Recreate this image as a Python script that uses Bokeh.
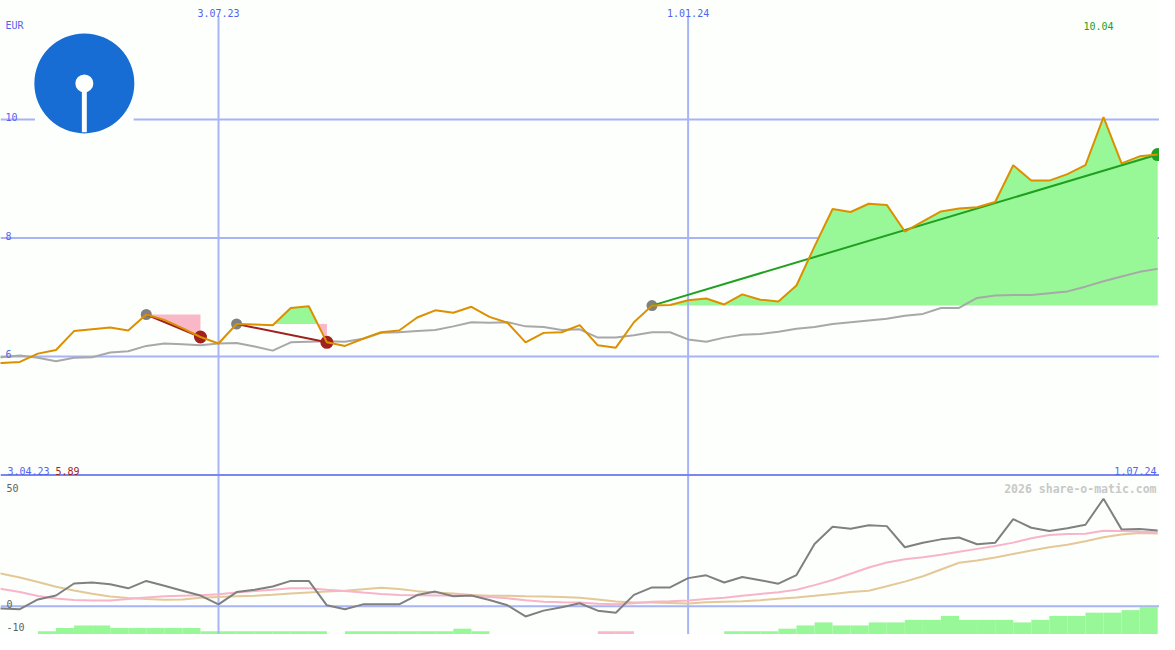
import numpy as np
import pandas as pd
from bokeh.plotting import figure
from bokeh.models import Range1d, Span, Label
from bokeh.embed import file_html
from bokeh.resources import INLINE

# ---------------- data ----------------
dates = pd.date_range("2023-04-03", periods=66, freq="7D")

price = [5.89, 5.89, 5.91, 6.05, 6.11, 6.43, 6.46, 6.49, 6.44, 6.71,
         6.62, 6.48, 6.33, 6.22, 6.55, 6.54, 6.53, 6.82, 6.85, 6.24,
         6.18, 6.30, 6.41, 6.44, 6.66, 6.78, 6.74, 6.84, 6.67, 6.57,
         6.24, 6.40, 6.41, 6.53, 6.19, 6.15, 6.58, 6.86, 6.87, 6.95,
         6.98, 6.88, 7.05, 6.96, 6.93, 7.20, 7.86, 8.49, 8.44, 8.58,
         8.56, 8.11, 8.28, 8.45, 8.50, 8.52, 8.61, 9.23, 8.97, 8.97,
         9.08, 9.23, 10.04, 9.26, 9.38, 9.41]

avg_line = [5.98, 5.99, 6.02, 5.98, 5.92, 5.98, 5.99, 6.07, 6.09, 6.18,
            6.22, 6.21, 6.19, 6.22, 6.23, 6.17, 6.10, 6.24, 6.25, 6.26,
            6.25, 6.30, 6.40, 6.41, 6.43, 6.45, 6.51, 6.58, 6.57, 6.58,
            6.51, 6.50, 6.45, 6.46, 6.32, 6.32, 6.36, 6.41, 6.41, 6.29,
            6.25, 6.32, 6.37, 6.38, 6.42, 6.47, 6.50, 6.55, 6.58, 6.61,
            6.64, 6.69, 6.72, 6.82, 6.82, 6.99, 7.03, 7.04, 7.04, 7.07,
            7.10, 7.18, 7.27, 7.35, 7.43, 7.48]

momentum = [-1.0, -1.0, -1.3, 2.9, 4.6, 9.8, 10.2, 9.5, 7.7, 10.9,
            8.8, 6.7, 4.6, 0.8, 6.1, 7.1, 8.5, 10.9, 10.9, 0.4,
            -1.3, 0.8, 0.8, 0.8, 4.8, 6.3, 4.3, 4.6, 2.7, 0.4,
            -4.4, -1.9, -0.4, 1.3, -1.9, -2.8, 4.9, 8.1, 8.1, 12.1,
            13.3, 10.2, 12.6, 11.2, 9.7, 13.4, 26.8, 34.2, 33.4, 34.9,
            34.5, 25.4, 27.3, 28.8, 29.6, 26.7, 27.3, 37.5, 33.8, 32.4,
            33.6, 35.1, 46.3, 33.1, 33.3, 32.6]

momentum_fast = [8.6, 7.4, 6.1, 4.4, 3.3, 2.7, 2.5, 2.5, 3.1, 3.8,
                 4.3, 4.5, 4.7, 5.2, 5.9, 6.6, 7.1, 7.7, 7.7, 7.1,
                 6.6, 5.9, 5.3, 4.8, 4.7, 4.6, 4.6, 4.6, 4.0, 3.4,
                 2.6, 1.9, 1.7, 1.6, 1.1, 0.8, 1.3, 1.9, 2.1, 2.5,
                 3.1, 3.7, 4.5, 5.3, 6.0, 7.1, 9.1, 11.3, 14.0, 16.7,
                 18.8, 20.2, 21.1, 22.2, 23.5, 24.7, 25.9, 27.4, 29.3, 30.7,
                 31.1, 31.2, 32.5, 32.4, 32.1, 31.9]

momentum_slow = [15.8, 14.0, 12.4, 10.4, 8.4, 6.8, 5.4, 4.2, 3.5, 3.1,
                 2.8, 2.9, 3.6, 4.0, 4.3, 4.5, 4.9, 5.5, 5.9, 6.3,
                 6.7, 7.3, 8.0, 7.4, 6.5, 5.9, 5.5, 4.8, 4.5, 4.5,
                 4.3, 4.2, 4.0, 3.7, 2.9, 2.0, 1.6, 1.6, 1.4, 1.2,
                 1.7, 1.9, 2.1, 2.6, 3.2, 3.8, 4.5, 5.3, 6.1, 6.7,
                 8.6, 10.6, 12.9, 15.8, 18.7, 19.7, 21.0, 22.5, 24.0, 25.4,
                 26.5, 28.0, 29.7, 30.9, 31.5, 31.3]

# weekly histogram (value for the bar ending at that week)
hist_values = [0, 0, 0, 0, 1.4, 2.8, 3.9, 3.9, 2.8, 2.8,
               2.8, 2.8, 2.8, 1.4, 1.4, 1.4, 1.4, 1.4, 1.4, 1.4,
               0, 1.4, 1.4, 1.4, 1.4, 1.4, 1.4, 2.5, 1.4, 0,
               0, 0, 0, 0, 0, -1.4, -1.4, 0, 0, 0,
               0, 0, 1.4, 1.4, 1.4, 2.5, 3.9, 5.2, 3.9, 3.9,
               5.2, 5.2, 6.3, 6.3, 8.0, 6.3, 6.3, 6.3, 5.2, 6.3,
               8.0, 8.0, 9.4, 9.4, 10.5, 11.9]

trade_entries = [9, 14, 37]
trade_exits = [12, 19, 65]

price_ticks = [10, 8, 6]
ind_ticks = [50, 0, -10]
grid_dates = ["2023-07-03", "2024-01-01"]
currency = "EUR"
credit = "2026 share-o-matic.com"

# ---------------- styling / layout ----------------
BG = "#fcfffc"
GRID = "#a8b4f4"
SEP = "#7888f0"
BLUE_TXT = "#5462f0"
ORANGE = "#dc9000"
MA_GRAY = "#a8a8a8"
DARK_GRAY = "#808080"
PINK_LINE = "#f8b4c8"
TAN_LINE = "#e4c898"
GREEN_FILL = "#98f898"
PINK_FILL = "#f8b8c8"
DARK_RED = "#a02020"
GREEN = "#20a020"
LOGO = "#176dd3"
FONT = "DejaVu Sans Mono"

W, H = 1159, 634
REF_W, REF_H = 1175.0, 650.0
WEEK = 7 * 86400000.0
xs = dates.values.astype("datetime64[ms]").astype("int64").astype(float)
X0 = xs[0] + 0.9285 * WEEK
X1 = xs[0] + 65.10 * WEEK
Y0, Y1 = 1.309, 12.01          # price range (top panel occupies 4..12)
I0, I1 = -12.18, 260.9         # indicator range (bottom panel occupies -12.2..56.5)
SPLIT = 4.0


def px_x(px):
    return X0 + px / REF_W * (X1 - X0)


def px_y(py):
    return Y1 - py / REF_H * (Y1 - Y0)


def dlabel(d):
    return f"{d.day}.{d.month:02d}.{d.year % 100:02d}"


p = figure(width=W, height=H, x_range=Range1d(X0, X1), y_range=Range1d(Y0, Y1),
           output_backend="svg", toolbar_location=None, min_border=0,
           x_axis_location=None, y_axis_location=None,
           background_fill_color=BG, border_fill_color=BG, outline_line_color=None)
p.extra_y_ranges = {"ind": Range1d(I0, I1)}
p.grid.visible = False

# horizontal grid lines (under fills)
for t in price_ticks:
    p.add_layout(Span(location=t, dimension="width", line_color=GRID, line_width=2, level="underlay"))
p.add_layout(Span(location=0, dimension="width", line_color=GRID, line_width=2,
                  level="underlay", y_range_name="ind"))

# histogram bars in the bottom panel
bx, btop, bcol = [], [], []
for k, v in enumerate(hist_values):
    if v != 0 and k > 0:
        bx.append((xs[k - 1] + xs[k]) / 2)
        btop.append(I0 + abs(v))
        bcol.append(GREEN_FILL if v > 0 else PINK_FILL)
p.vbar(x=bx, width=WEEK, bottom=I0, top=btop, fill_color=bcol, line_color=None, y_range_name="ind")


# trade fills
def trade_fill(a, b, e):
    fx, up, dn = [], [], []
    for k in range(a, b + 1):
        if k > a:
            p0, p1 = price[k - 1], price[k]
            if (p0 - e) * (p1 - e) < 0:
                t = (e - p0) / (p1 - p0)
                fx.append(xs[k - 1] + t * (xs[k] - xs[k - 1]))
                up.append(e)
                dn.append(e)
        fx.append(xs[k])
        up.append(max(price[k], e))
        dn.append(min(price[k], e))
    return fx, up, dn


for a, b in zip(trade_entries, trade_exits):
    e = price[a]
    fx, up, dn = trade_fill(a, b, e)
    base = [e] * len(fx)
    p.varea(x=fx, y1=base, y2=up, fill_color=GREEN_FILL)
    p.varea(x=fx, y1=dn, y2=base, fill_color=PINK_FILL)

# vertical grid lines
for gd in grid_dates:
    gx = pd.Timestamp(gd).value / 1e6
    p.segment(x0=[gx], y0=[px_y(16)], x1=[gx], y1=[Y0], line_color=GRID, line_width=2)
    p.add_layout(Label(x=gx, y=Y1, y_offset=-12.7, text=dlabel(pd.Timestamp(gd)),
                       text_align="center", text_baseline="alphabetic",
                       text_color=BLUE_TXT, text_font=FONT, text_font_size="10px"))

# panel separator
p.add_layout(Span(location=SPLIT, dimension="width", line_color=SEP, line_width=2))

# bottom indicator lines
p.line(xs, momentum_slow, line_color=TAN_LINE, line_width=2, y_range_name="ind")
p.line(xs, momentum_fast, line_color=PINK_LINE, line_width=2, y_range_name="ind")
p.line(xs, momentum, line_color=DARK_GRAY, line_width=2, y_range_name="ind")

# moving average
p.line(xs, avg_line, line_color=MA_GRAY, line_width=2)

# trade markers and lines
for a, b in zip(trade_entries, trade_exits):
    gain = price[b] > price[a]
    col = GREEN if gain else DARK_RED
    p.scatter([xs[a]], [price[a]], size=11, marker="circle", fill_color=DARK_GRAY, line_color=None)
    p.scatter([xs[b]], [price[b]], size=13, marker="circle", fill_color=col, line_color=None)
    p.line([xs[a], xs[b]], [price[a], price[b]], line_color=col, line_width=2)

# price line
p.line(xs, price, line_color=ORANGE, line_width=2)

# logo
p.quad(left=[px_x(35)], right=[px_x(135)], top=[px_y(35)], bottom=[px_y(135)],
       fill_color=BG, line_color=None)
p.scatter([px_x(85)], [px_y(85)], size=100, marker="circle", fill_color=LOGO, line_color=None)
p.scatter([px_x(85)], [px_y(85)], size=18, marker="circle", fill_color=BG, line_color=None)
p.quad(left=[px_x(82.5)], right=[px_x(87.5)], top=[px_y(85)], bottom=[px_y(135)],
       fill_color=BG, line_color=None)


# texts
def lab(**kw):
    base = dict(text_baseline="alphabetic", text_font=FONT, text_font_size="10px")
    base.update(kw)
    p.add_layout(Label(**base))


lab(x=X0, y=Y1, x_offset=5, y_offset=-25, text=currency, text_color=BLUE_TXT)
for t in price_ticks:
    lab(x=X0, y=t, x_offset=5, y_offset=2.5, text=str(t), text_color=BLUE_TXT)
imax = int(np.argmax(price))
imin = int(np.argmin(price))
lab(x=xs[imax], y=Y1, x_offset=-5, y_offset=-25, text=f"{price[imax]:.2f}",
    text_color=GREEN, text_align="center")
lab(x=X0, y=SPLIT, x_offset=7, y_offset=4, text=dlabel(dates[0]), text_color=BLUE_TXT)
lab(x=X0, y=SPLIT, x_offset=55, y_offset=4, text=f"{price[imin]:.2f}", text_color=DARK_RED)
lab(x=X1, y=SPLIT, x_offset=-3, y_offset=4, text=dlabel(dates[-1]), text_color=BLUE_TXT,
    text_align="right")
lab(x=X1, y=SPLIT, x_offset=-3, y_offset=-13.5, text=credit, text_color="#c8c8c8",
    text_align="right", text_font_size="11.5px", text_font_style="bold")
for t in ind_ticks:
    lab(x=X0, y=t, x_offset=6, y_offset=2.5, text=str(t),
        text_color="#606060", y_range_name="ind")

open("out.html", "w").write(file_html(p, INLINE))
